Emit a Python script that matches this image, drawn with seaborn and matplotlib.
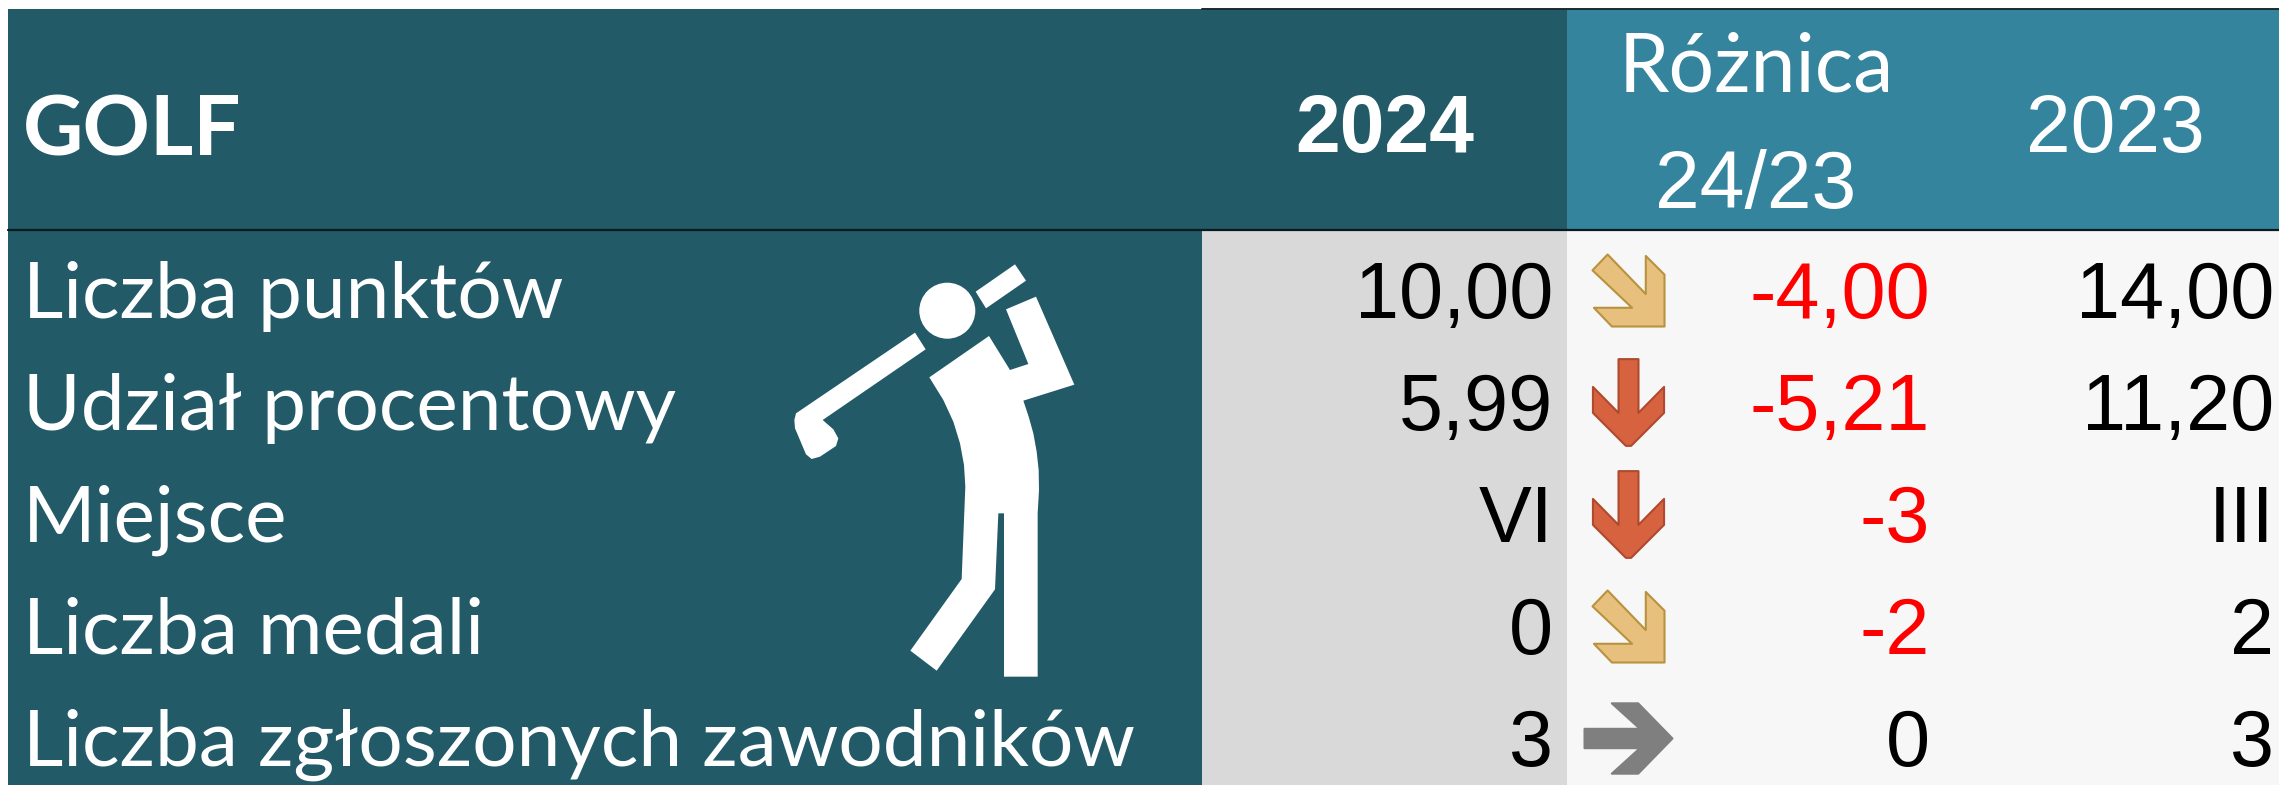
import pandas as pd
import matplotlib.pyplot as plt
import seaborn as sns
from matplotlib.path import Path
from matplotlib.patches import Rectangle, Polygon, Circle

# table content
row_labels = ['Liczba punktów', 'Udział procentowy', 'Miejsce', 'Liczba medali', 'Liczba zgłoszonych zawodników']
values_2024 = ['10,00', '5,99', 'VI', '0', '3']
values_diff = ['-4,00', '-5,21', '-3', '-2', '0']
values_2023 = ['14,00', '11,20', 'III', '2', '3']
trends = ['slight_down', 'down', 'down', 'slight_down', 'flat']

DARK = '#225A68'
TEAL = '#34849E'
GREY = '#D9D9D9'
LIGHT = '#F7F7F7'

W, H = 2279, 785
ROW0, ROW_H = 290, 112
BASE = 28   # baseline below row centre
ARROW_X = 1628

LABEL_FONT = ['Lato', 'DejaVu Sans']
NUM_FONT = ['Liberation Sans', 'DejaVu Sans']

# arrow shapes, symmetric around 0 so matplotlib scales them the same way
down_arrow = Path([(-11.5, 50), (11.5, 50), (11.5, -12), (41, 18), (41, -12), (3, -50), (-3, -50), (-41, -12), (-41, 18),
                   (-11.5, -12), (-11.5, 50)], closed=True)
slight_arrow = Path([(-29, 50), (24, -5), (24, 48), (50, 22), (50, -50), (-23, -50), (-48, -24), (5, -24), (-50, 28),
                     (-29, 50)], closed=True)
flat_arrow = Path([(-50, 11), (13, 11), (-19, 40), (11, 40), (50, 0), (11, -40), (-19, -40), (13, -11), (-50, -11),
                   (-50, 11)], closed=True)

arrow_styles = {
    'slight_down': dict(marker=slight_arrow, s=2690, color='#E8C07D', edgecolor='#B8923F'),
    'down': dict(marker=down_arrow, s=3900, color='#D66240', edgecolor='#AE4A2E'),
    'flat': dict(marker=flat_arrow, s=4010, color='#7F7F7F', edgecolor='#7F7F7F'),
}

sns.set_theme(style='white')
fig = plt.figure(figsize=(W / 100, H / 100), dpi=100)
ax = fig.add_axes([0, 0, 1, 1])

# backgrounds
ax.add_patch(Rectangle((8, 9), 1194, H - 9, color=DARK, lw=0))
ax.add_patch(Rectangle((1202, 9), 365, 221, color=DARK, lw=0))
ax.add_patch(Rectangle((1567, 9), W - 1567, 221, color=TEAL, lw=0))
ax.add_patch(Rectangle((1202, 230), 365, H - 230, color=GREY, lw=0))
ax.add_patch(Rectangle((1567, 230), W - 1567, H - 230, color=LIGHT, lw=0))
ax.plot([8, W], [230, 230], color='#0B1A1E', lw=1.6, zorder=3)
ax.plot([1202, W], [9, 9], color='#1A2A30', lw=1.4, zorder=3)

# header
ax.text(23, 155, 'GOLF', color='white', fontsize=60, fontweight='bold', family=LABEL_FONT, va='baseline', ha='left')
ax.text(1385, 152, '2024', color='white', fontsize=58, fontweight='bold', family=NUM_FONT, va='baseline', ha='center')
ax.text(1756, 92, 'Różnica', color='white', fontsize=58, family=LABEL_FONT, va='baseline', ha='center')
ax.text(1756, 208, '24/23', color='white', fontsize=58, family=NUM_FONT, va='baseline', ha='center')
ax.text(2115, 152, '2023', color='white', fontsize=58, family=NUM_FONT, va='baseline', ha='center')

# body text
for i, label in enumerate(row_labels):
    y = ROW0 + i * ROW_H + BASE
    ax.text(23, y, label, color='white', fontsize=56.5, family=LABEL_FONT, va='baseline', ha='left')
    ax.text(1553, y, values_2024[i], color='black', fontsize=57, family=NUM_FONT, va='baseline', ha='right')
    diff_color = 'red' if values_diff[i].startswith('-') else 'black'
    ax.text(1930, y, values_diff[i], color=diff_color, fontsize=57, family=NUM_FONT, va='baseline', ha='right')
    ax.text(2274, y, values_2023[i], color='black', fontsize=57, family=NUM_FONT, va='baseline', ha='right')

# trend arrows
arrow_df = pd.DataFrame({'row': range(len(trends)), 'trend': trends})
arrow_df['y'] = ROW0 + arrow_df['row'] * ROW_H
arrow_df['x'] = ARROW_X
for trend, part in arrow_df.groupby('trend'):
    sns.scatterplot(data=part, x='x', y='y', ax=ax, linewidth=1.5, legend=False, zorder=4, **arrow_styles[trend])

# golfer icon (zoom coordinates, 3x from x=740, y=220)
def icon(points):
    return [(740 + px / 3, 220 + py / 3) for px, py in points]

club_top = [(707, 215), (825, 133), (858, 182), (738, 265)]
body = [(568, 472), (747, 348), (810, 450), (865, 432), (798, 268), (888, 230), (1003, 494), (850, 542), (866, 590),
        (880, 640), (890, 695), (896, 750), (897, 810), (893, 880), (893, 1370), (792, 1370), (792, 880), (775, 880),
        (765, 1108), (590, 1352), (511, 1292), (665, 1077), (672, 900), (676, 800), (672, 735), (660, 670), (640, 605),
        (610, 540)]
club = [(525, 338), (557, 388), (248, 600), (280, 628), (295, 655), (288, 678), (240, 710), (215, 717), (198, 703),
        (165, 625), (163, 600), (168, 580)]
for shape in [club_top, body, club]:
    ax.add_patch(Polygon(icon(shape), closed=True, color='white', lw=0, zorder=3))
ax.add_patch(Circle((947.3, 310.7), 28, color='white', lw=0, zorder=3))

ax.set_xlim(0, W)
ax.set_ylim(H, 0)
ax.set_xlabel('')
ax.set_ylabel('')
ax.axis('off')

fig.savefig('out.png', dpi=100)
